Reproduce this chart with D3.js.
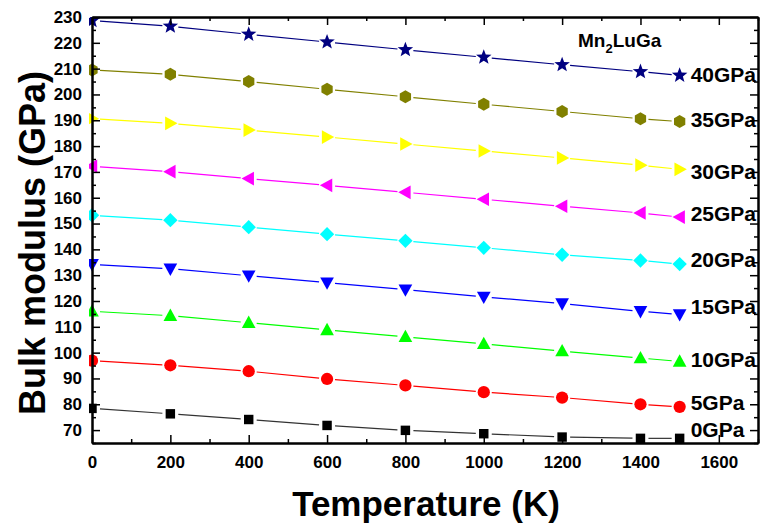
<!DOCTYPE html>
<html>
<head>
<meta charset="utf-8">
<script src="https://cdn.jsdelivr.net/npm/d3@7"></script>
<style>
  body { margin: 0; background: #fff; }
  svg { font-family: Arial, "Liberation Sans", sans-serif; font-weight: bold; }
  .axis path, .axis line { stroke: #000; }
</style>
</head>
<body>
<svg id="chart" width="760" height="524"></svg>
<script>
// temperature (K)
const temps = [0, 200, 400, 600, 800, 1000, 1200, 1400, 1500];

// bulk modulus (GPa) at each pressure
const p0  = [78.4, 76.3, 74.1, 71.8, 69.9, 68.6, 67.3, 66.8, 66.8];
const p5  = [96.9, 95.1, 92.8, 89.8, 87.3, 84.7, 82.6, 80.0, 79.0];
const p10 = [116.0, 114.3, 111.6, 108.8, 106.1, 103.4, 100.6, 97.9, 96.6];
const p15 = [134.2, 132.5, 129.8, 127.1, 124.4, 121.6, 119.0, 116.0, 114.8];
const p20 = [153.2, 151.3, 148.6, 145.9, 143.3, 140.6, 137.9, 135.7, 134.3];
const p25 = [172.2, 170.1, 167.4, 164.8, 162.1, 159.4, 156.7, 154.1, 152.5];
const p30 = [190.6, 188.8, 186.2, 183.5, 180.8, 178.1, 175.4, 172.6, 171.0];
const p35 = [209.5, 207.8, 205.0, 202.0, 199.1, 196.2, 193.4, 190.6, 189.5];
const p40 = [228.6, 226.4, 223.3, 220.3, 217.3, 214.4, 211.5, 208.8, 207.4];

const seriesNames = ["0GPa", "5GPa", "10GPa", "15GPa", "20GPa", "25GPa", "30GPa", "35GPa", "40GPa"];
const seriesValues = [p0, p5, p10, p15, p20, p25, p30, p35, p40];
// where each right-hand label sits, in GPa
const labelValues = [70.3, 80.8, 97.5, 118, 136.1, 153.9, 170.1, 190.3, 207.7];

const xTicks = [0, 200, 400, 600, 800, 1000, 1200, 1400, 1600];
const yTicks = [70, 80, 90, 100, 110, 120, 130, 140, 150, 160, 170, 180, 190, 200, 210, 220, 230];

const colors = ["#000000", "#ff0000", "#00ff00", "#0000ff", "#00ffff", "#ff00ff", "#ffff00", "#808000", "#000080"];
const lineColors = ["#333333", "#ff0000", "#00ff00", "#0000ff", "#00ffff", "#ff00ff", "#ffff00", "#808000", "#000080"];

const svg = d3.select("#chart");
const mLeft = 92, mRight = 758, mTop = 17, mBottom = 443;

const x = d3.scaleLinear().domain([0, 1700]).range([mLeft, mRight]);
const y = d3.scaleLinear().domain([65, 230]).range([mBottom, mTop]);

// symbol shapes
function poly(pts) {
  return { draw(ctx, size) {
    const r = Math.sqrt(size) / 2;
    pts.forEach((p, i) => i ? ctx.lineTo(p[0] * r, p[1] * r) : ctx.moveTo(p[0] * r, p[1] * r));
    ctx.closePath();
  } };
}
const square = poly([[-0.9, -0.9], [0.9, -0.9], [0.9, 0.9], [-0.9, 0.9]]);
const circle = { draw(ctx, size) { const r = Math.sqrt(size) / 2; ctx.moveTo(r, 0); ctx.arc(0, 0, r, 0, 2 * Math.PI); } };
const triUp = poly([[0, -1.1], [1.05, 0.8], [-1.05, 0.8]]);
const triDown = poly([[0, 1.1], [1.05, -0.8], [-1.05, -0.8]]);
const diamond = poly([[0, -1.1], [1.1, 0], [0, 1.1], [-1.1, 0]]);
const triLeft = poly([[-1.1, 0], [0.8, -1.05], [0.8, 1.05]]);
const triRight = poly([[1.1, 0], [-0.8, -1.05], [-0.8, 1.05]]);
const hexagon = poly(d3.range(6).map(i => [Math.sin(i * Math.PI / 3), -Math.cos(i * Math.PI / 3)]));
const star = { draw(ctx, size) {
  const R = Math.sqrt(size) / 2 * 1.15, r0 = R * 0.42;
  for (let i = 0; i < 10; i++) {
    const a = i * Math.PI / 5, rr = i % 2 ? r0 : R;
    const px = Math.sin(a) * rr, py = -Math.cos(a) * rr;
    i ? ctx.lineTo(px, py) : ctx.moveTo(px, py);
  }
  ctx.closePath();
} };
const shapes = [square, circle, triUp, triDown, diamond, triLeft, triRight, hexagon, star];
const sizes = [110, 150, 170, 170, 170, 170, 170, 170, 200];

svg.append("clipPath").attr("id", "plot")
  .append("rect").attr("x", mLeft - 3).attr("y", mTop).attr("width", mRight - mLeft + 3).attr("height", mBottom - mTop);

const plot = svg.append("g").attr("clip-path", "url(#plot)");

// lines with small gaps near markers
seriesValues.forEach((vals, s) => {
  const g = plot.append("g");
  for (let i = 0; i < vals.length - 1; i++) {
    const x1 = x(temps[i]), y1 = y(vals[i]), x2 = x(temps[i + 1]), y2 = y(vals[i + 1]);
    const len = Math.hypot(x2 - x1, y2 - y1), gap = 8;
    if (len <= 2 * gap) continue;
    const ux = (x2 - x1) / len, uy = (y2 - y1) / len;
    g.append("line")
      .attr("x1", x1 + ux * gap).attr("y1", y1 + uy * gap)
      .attr("x2", x2 - ux * gap).attr("y2", y2 - uy * gap)
      .attr("stroke", lineColors[s]).attr("stroke-width", 1.2);
  }
  g.selectAll("path")
    .data(vals)
    .enter().append("path")
    .attr("transform", (d, i) => `translate(${x(temps[i])},${y(d)})`)
    .attr("d", d3.symbol(shapes[s], sizes[s]))
    .attr("fill", colors[s]);
});

// axes: ticks point inward
const xMinor = d3.range(0, 1701, 100).filter(v => v % 200);
const yMinor = d3.range(65, 231, 5).filter(v => v % 10);
const fmt = d3.format("d");

function styleAxis(g) {
  g.attr("class", "axis");
  g.select(".domain").attr("stroke-width", 2);
  g.selectAll(".tick line").attr("stroke-width", 1.5);
  g.selectAll("text").attr("font-size", 17).attr("font-weight", "bold").attr("fill", "#000")
    .attr("font-family", "Arial, 'Liberation Sans', sans-serif");
}

svg.append("g").attr("transform", `translate(0,${mBottom})`)
  .call(d3.axisBottom(x).tickValues(xTicks).tickFormat(fmt).tickSize(-8).tickPadding(13).tickSizeOuter(0))
  .call(styleAxis);
svg.append("g").attr("transform", `translate(0,${mBottom})`)
  .call(d3.axisBottom(x).tickValues(xMinor).tickSize(-4).tickFormat("").tickSizeOuter(0))
  .call(styleAxis);
svg.append("g").attr("transform", `translate(0,${mTop})`)
  .call(d3.axisTop(x).tickValues(xTicks).tickSize(-8).tickFormat("").tickSizeOuter(0))
  .call(styleAxis);
svg.append("g").attr("transform", `translate(0,${mTop})`)
  .call(d3.axisTop(x).tickValues(xMinor).tickSize(-4).tickFormat("").tickSizeOuter(0))
  .call(styleAxis);

svg.append("g").attr("transform", `translate(${mLeft},0)`)
  .call(d3.axisLeft(y).tickValues(yTicks).tickFormat(fmt).tickSize(-8).tickPadding(10).tickSizeOuter(0))
  .call(styleAxis);
svg.append("g").attr("transform", `translate(${mLeft},0)`)
  .call(d3.axisLeft(y).tickValues(yMinor).tickSize(-4).tickFormat("").tickSizeOuter(0))
  .call(styleAxis);
svg.append("g").attr("transform", `translate(${mRight},0)`)
  .call(d3.axisRight(y).tickValues(yTicks).tickSize(-8).tickFormat("").tickSizeOuter(0))
  .call(styleAxis);
svg.append("g").attr("transform", `translate(${mRight},0)`)
  .call(d3.axisRight(y).tickValues(yMinor).tickSize(-4).tickFormat("").tickSizeOuter(0))
  .call(styleAxis);

// series labels
svg.append("g").selectAll("text")
  .data(seriesNames)
  .enter().append("text")
  .attr("x", x(1500) + 11)
  .attr("y", (d, i) => y(labelValues[i]))
  .attr("dy", "0.36em")
  .attr("font-size", 21)
  .text(d => d);

// compound label
const comp = svg.append("text").attr("x", 578).attr("y", 47).attr("font-size", 19);
comp.append("tspan").text("Mn");
comp.append("tspan").attr("font-size", 13).attr("dy", 6).text("2");
comp.append("tspan").attr("dy", -6).text("LuGa");

// axis titles
svg.append("text")
  .attr("x", 426).attr("y", 516)
  .attr("text-anchor", "middle").attr("font-size", 35)
  .text("Temperature (K)");
svg.append("text")
  .attr("transform", "translate(45,243) rotate(-90)")
  .attr("text-anchor", "middle").attr("font-size", 36)
  .text("Bulk modulus (GPa)");
</script>
</body>
</html>
